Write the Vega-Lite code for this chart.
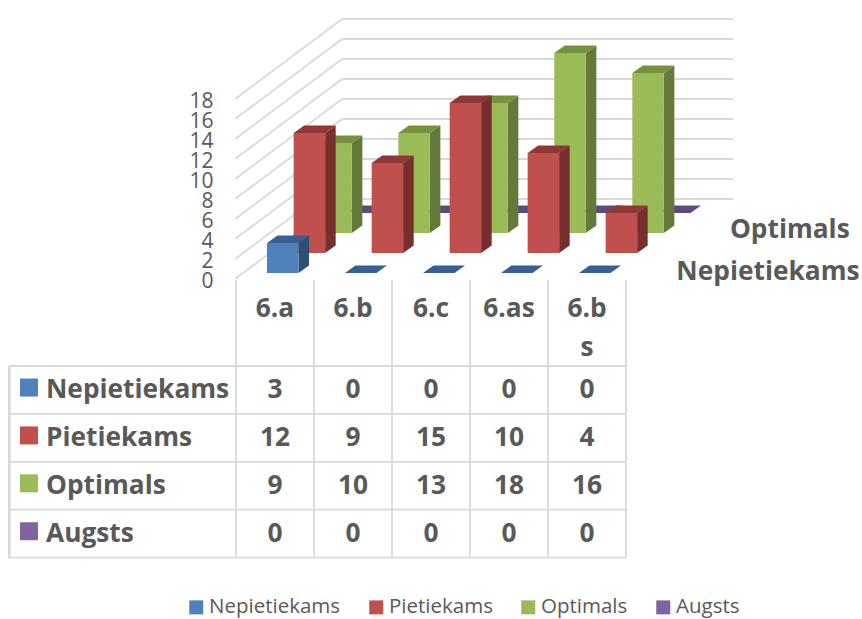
{
"$schema":"https://vega.github.io/schema/vega-lite/v6.json",
"padding":0,
"autosize":{"type":"pad"},
"background":"white",
"spacing":0,
"bounds":"flush",
"config":{"view":{"stroke":null},"font":"Open Sans"},
"datasets":{
"rows":[
{"class":"6.a","series":"Nepietiekams","value":3},{"class":"6.b","series":"Nepietiekams","value":0},{"class":"6.c","series":"Nepietiekams","value":0},{"class":"6.as","series":"Nepietiekams","value":0},{"class":"6.bs","series":"Nepietiekams","value":0},
{"class":"6.a","series":"Pietiekams","value":12},{"class":"6.b","series":"Pietiekams","value":9},{"class":"6.c","series":"Pietiekams","value":15},{"class":"6.as","series":"Pietiekams","value":10},{"class":"6.bs","series":"Pietiekams","value":4},
{"class":"6.a","series":"Optimals","value":9},{"class":"6.b","series":"Optimals","value":10},{"class":"6.c","series":"Optimals","value":13},{"class":"6.as","series":"Optimals","value":18},{"class":"6.bs","series":"Optimals","value":16},
{"class":"6.a","series":"Augsts","value":0},{"class":"6.b","series":"Augsts","value":0},{"class":"6.c","series":"Augsts","value":0},{"class":"6.as","series":"Augsts","value":0},{"class":"6.bs","series":"Augsts","value":0}
],
"ticks":[{"v":0},{"v":2},{"v":4},{"v":6},{"v":8},{"v":10},{"v":12},{"v":14},{"v":16},{"v":18}],
"depth":[{"series":"Nepietiekams","d":0},{"series":"Optimals","d":2}],
"cols":[{"col":0},{"col":1},{"col":2},{"col":3},{"col":4},{"col":5}],
"lines":[{"row":0},{"row":1},{"row":2},{"row":3},{"row":4}],
"heads":[{"class":"6.a"},{"class":"6.b"},{"class":"6.c"},{"class":"6.as"},{"class":"6.bs"}],
"names":[{"series":"Nepietiekams"},{"series":"Pietiekams"},{"series":"Optimals"},{"series":"Augsts"}]
},
"vconcat":[
{
"width":862,"height":279,
"data":{"name":"rows"},
"resolve":{"axis":{"y":"independent","x":"independent"}},
"transform":[
{"calculate":"indexof(['6.a','6.b','6.c','6.as','6.bs'],datum.class)","as":"i"},
{"calculate":"indexof(['Nepietiekams','Pietiekams','Optimals','Augsts'],datum.series)","as":"d"},
{"calculate":"datum.i+0.397+datum.d*0.342","as":"xl"},
{"calculate":"datum.xl+0.404","as":"xr"},
{"calculate":"0.6+2*datum.d","as":"y0"},
{"calculate":"datum.y0+datum.value","as":"y1"},
{"calculate":"[0,1]","as":"t"},
{"flatten":["t"]},
{"calculate":"datum.xl+datum.t*0.135","as":"tl"},
{"calculate":"datum.xr+datum.t*0.135","as":"tr"},
{"calculate":"datum.y0+datum.t*0.75","as":"sy0"},
{"calculate":"datum.y1+datum.t*0.75","as":"sy1"}
],
"layer":[
{"data":{"name":"ticks"},"transform":[{"calculate":"datum.v+8","as":"back"}],
 "mark":{"type":"rule","color":"#d9d9d9","strokeWidth":1.8},
 "encoding":{
  "x":{"datum":-0.013,"type":"quantitative","scale":{"domain":[-3.0256,8.0256],"nice":false,"zero":false},"axis":null},
  "x2":{"datum":1.36},
  "y":{"field":"v","type":"quantitative","scale":{"domain":[0,27.9],"nice":false,"zero":false},
    "axis":{"values":[0,2,4,6,8,10,12,14,16,18],"title":null,"orient":"left","offset":-213,"domain":false,"ticks":false,"grid":false,"labelPadding":0,"labelFont":"Open Sans","labelFontSize":21,"labelColor":"#595959","labelOverlap":false,"labelBound":false,"labelFlush":false,"labelOffset":2}},
  "y2":{"field":"back"}}},
{"data":{"name":"ticks"},"transform":[{"calculate":"datum.v+8","as":"back"}],
 "mark":{"type":"rule","color":"#d9d9d9","strokeWidth":1.8},
 "encoding":{"x":{"datum":1.36,"type":"quantitative","axis":null},"x2":{"datum":6.372},"y":{"field":"back","type":"quantitative","axis":null}}},

{"transform":[{"filter":"datum.series==='Augsts' && datum.t===0"}],"mark":{"type":"rect","color":"#8064a2"},"encoding":{"x":{"field":"xl","type":"quantitative","axis":null},"x2":{"field":"xr"},"y":{"field":"y1","type":"quantitative","axis":null},"y2":{"field":"y0"}}},
{"transform":[{"filter":"datum.series==='Augsts'"}],"mark":{"type":"area","orient":"horizontal","color":"#604a7b"},"encoding":{"y":{"field":"sy1","type":"quantitative","axis":null},"x":{"field":"tl","type":"quantitative","axis":null},"x2":{"field":"tr"},"detail":{"field":"class"}}},

{"transform":[{"filter":"datum.series==='Optimals'"}],"mark":{"type":"area","orient":"vertical","color":"#647a3a"},"encoding":{"x":{"field":"tr","type":"quantitative","axis":null},"y":{"field":"sy1","type":"quantitative","axis":null},"y2":{"field":"sy0"},"detail":{"field":"class"}}},
{"transform":[{"filter":"datum.series==='Optimals'"}],"mark":{"type":"area","orient":"horizontal","color":"#76923c"},"encoding":{"y":{"field":"sy1","type":"quantitative","axis":null},"x":{"field":"tl","type":"quantitative","axis":null},"x2":{"field":"tr"},"detail":{"field":"class"}}},
{"transform":[{"filter":"datum.series==='Optimals' && datum.t===0"}],"mark":{"type":"rect","color":"#9bbb59"},"encoding":{"x":{"field":"xl","type":"quantitative","axis":null},"x2":{"field":"xr"},"y":{"field":"y1","type":"quantitative","axis":null},"y2":{"field":"y0"}}},

{"transform":[{"filter":"datum.series==='Pietiekams'"}],"mark":{"type":"area","orient":"vertical","color":"#772f2d"},"encoding":{"x":{"field":"tr","type":"quantitative","axis":null},"y":{"field":"sy1","type":"quantitative","axis":null},"y2":{"field":"sy0"},"detail":{"field":"class"}}},
{"transform":[{"filter":"datum.series==='Pietiekams'"}],"mark":{"type":"area","orient":"horizontal","color":"#8f3836"},"encoding":{"y":{"field":"sy1","type":"quantitative","axis":null},"x":{"field":"tl","type":"quantitative","axis":null},"x2":{"field":"tr"},"detail":{"field":"class"}}},
{"transform":[{"filter":"datum.series==='Pietiekams' && datum.t===0"}],"mark":{"type":"rect","color":"#c0504d"},"encoding":{"x":{"field":"xl","type":"quantitative","axis":null},"x2":{"field":"xr"},"y":{"field":"y1","type":"quantitative","axis":null},"y2":{"field":"y0"}}},

{"transform":[{"filter":"datum.series==='Nepietiekams'"}],"mark":{"type":"area","orient":"vertical","color":"#2f4f77"},"encoding":{"x":{"field":"tr","type":"quantitative","axis":null},"y":{"field":"sy1","type":"quantitative","axis":null},"y2":{"field":"sy0"},"detail":{"field":"class"}}},
{"transform":[{"filter":"datum.series==='Nepietiekams'"}],"mark":{"type":"area","orient":"horizontal","color":"#385f92"},"encoding":{"y":{"field":"sy1","type":"quantitative","axis":null},"x":{"field":"tl","type":"quantitative","axis":null},"x2":{"field":"tr"},"detail":{"field":"class"}}},
{"transform":[{"filter":"datum.series==='Nepietiekams' && datum.t===0"}],"mark":{"type":"rect","color":"#4f81bd"},"encoding":{"x":{"field":"xl","type":"quantitative","axis":null},"x2":{"field":"xr"},"y":{"field":"y1","type":"quantitative","axis":null},"y2":{"field":"y0"}}},

{"data":{"name":"depth"},"transform":[{"calculate":"6.82+0.14*datum.d","as":"dx"},{"calculate":"0.73+2.085*datum.d","as":"dy"}],
 "mark":{"type":"text","font":"Open Sans","fontWeight":"bold","fontSize":26.3,"color":"#595959","align":"center","baseline":"middle"},
 "encoding":{"x":{"field":"dx","type":"quantitative","axis":null},"y":{"field":"dy","type":"quantitative","axis":null},"text":{"field":"series"}}}
]
},
{
"width":862,"height":340,
"layer":[
{"data":{"name":"cols"},"mark":{"type":"rule","color":"#d9d9d9","strokeWidth":1.8},
 "encoding":{"x":{"field":"col","type":"quantitative","scale":{"domain":[-3.0256,8.0256],"nice":false,"zero":false},"axis":null},
  "y":{"datum":-1.8,"type":"quantitative","scale":{"domain":[-1.816,5.282],"reverse":true,"nice":false,"zero":false},"axis":null},"y2":{"datum":4}}},
{"data":{"name":"lines"},"mark":{"type":"rule","color":"#d9d9d9","strokeWidth":1.8},
 "encoding":{"y":{"field":"row","type":"quantitative","axis":null},"x":{"datum":-2.906,"type":"quantitative","axis":null},"x2":{"datum":5}}},
{"data":{"name":"lines"},"mark":{"type":"rule","color":"#d9d9d9","strokeWidth":1.8},
 "encoding":{"x":{"datum":-2.906,"type":"quantitative","axis":null},"y":{"datum":0,"type":"quantitative","axis":null},"y2":{"datum":4}}},
{"data":{"name":"heads"},"transform":[{"calculate":"indexof(['6.a','6.b','6.c','6.as','6.bs'],datum.class)+0.5","as":"cx"},{"calculate":"replace(datum.class,'6.bs','6.b\\ns')","as":"head"}],
 "mark":{"type":"text","font":"Open Sans","fontWeight":"bold","fontSize":26.3,"color":"#595959","align":"center","baseline":"top","lineBreak":"\n","lineHeight":39},
 "encoding":{"x":{"field":"cx","type":"quantitative","axis":null},"y":{"datum":-1.47,"type":"quantitative","axis":null},"text":{"field":"head"}}},
{"data":{"name":"names"},"transform":[{"calculate":"indexof(['Nepietiekams','Pietiekams','Optimals','Augsts'],datum.series)+0.45","as":"ry"}],
 "mark":{"type":"point","shape":"square","filled":true,"size":324,"opacity":1},
 "encoding":{"x":{"datum":-2.654,"type":"quantitative","axis":null},"y":{"field":"ry","type":"quantitative","axis":null},
  "color":{"field":"series","type":"nominal","scale":{"domain":["Nepietiekams","Pietiekams","Optimals","Augsts"],"range":["#4f81bd","#c0504d","#9bbb59","#8064a2"]},
   "legend":{"title":null,"orient":"none","legendX":186,"legendY":597,"padding":0,"direction":"horizontal","columns":4,"columnPadding":25,"symbolType":"square","symbolSize":196,"symbolStrokeWidth":0,"labelFont":"Open Sans","labelFontSize":20.5,"labelColor":"#595959","labelOffset":2.5}}}},
{"data":{"name":"names"},"transform":[{"calculate":"indexof(['Nepietiekams','Pietiekams','Optimals','Augsts'],datum.series)+0.5","as":"ry"}],
 "mark":{"type":"text","font":"Open Sans","fontWeight":"bold","fontSize":26.3,"color":"#595959","align":"left","baseline":"middle"},
 "encoding":{"x":{"datum":-2.436,"type":"quantitative","axis":null},"y":{"field":"ry","type":"quantitative","axis":null},"text":{"field":"series"}}},
{"data":{"name":"rows"},"transform":[{"calculate":"indexof(['6.a','6.b','6.c','6.as','6.bs'],datum.class)+0.5","as":"cx"},{"calculate":"indexof(['Nepietiekams','Pietiekams','Optimals','Augsts'],datum.series)+0.5","as":"ry"}],
 "mark":{"type":"text","font":"Open Sans","fontWeight":"bold","fontSize":26.3,"color":"#595959","align":"center","baseline":"middle"},
 "encoding":{"x":{"field":"cx","type":"quantitative","axis":null},"y":{"field":"ry","type":"quantitative","axis":null},"text":{"field":"value","type":"quantitative"}}}
]
}
]
}
